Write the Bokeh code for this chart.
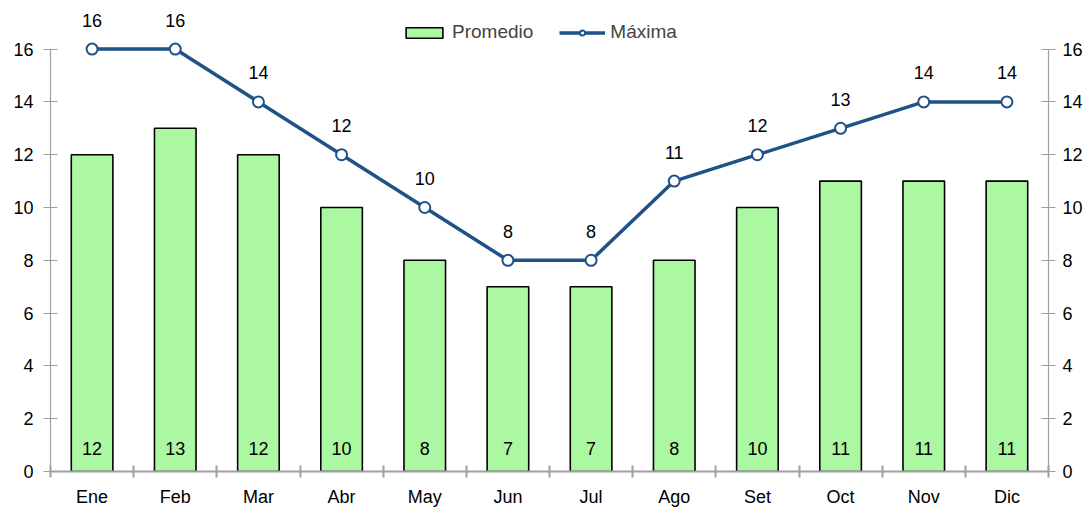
from bokeh.plotting import figure
from bokeh.models import (ColumnDataSource, LinearAxis, FixedTicker, Range1d,
                          Legend, LegendItem, LabelSet)
from bokeh.core.properties import value
from bokeh.embed import file_html
from bokeh.resources import INLINE

months = ["Ene", "Feb", "Mar", "Abr", "May", "Jun", "Jul", "Ago", "Set", "Oct", "Nov", "Dic"]
promedio = [12, 13, 12, 10, 8, 7, 7, 8, 10, 11, 11, 11]
maxima = [16, 16, 14, 12, 10, 8, 8, 11, 12, 13, 14, 14]
y_ticks = [0, 2, 4, 6, 8, 10, 12, 14, 16]

FONT = "Liberation Sans"
FS = "18px"
GREEN = "#abf7a2"
BLUE = "#1f5286"
AXIS = "#a0a0a0"

xs = list(range(1, len(months) + 1))
src = ColumnDataSource(dict(
    x=xs, prom=promedio, maxi=maxima,
    prom_txt=[str(v) for v in promedio], max_txt=[str(v) for v in maxima],
    zero=[0] * len(xs),
))

p = figure(width=1090, height=509, output_backend="svg", toolbar_location=None,
           x_range=Range1d(0.5, len(months) + 0.5), y_range=Range1d(0, 17.5),
           min_border_left=50, min_border_right=42, min_border_top=9, min_border_bottom=38)
p.outline_line_color = None
p.xgrid.grid_line_color = None
p.ygrid.grid_line_color = None
p.background_fill_color = "white"
p.border_fill_color = "white"

bars = p.vbar(x="x", top="prom", width=0.5, source=src, fill_color=GREEN,
              line_color="black", line_width=1.6)
line = p.line(x="x", y="maxi", source=src, line_color=BLUE, line_width=3.5)
pts = p.scatter(x="x", y="maxi", source=src, size=11, marker="circle",
                fill_color="white", line_color=BLUE, line_width=2)

# x axis
xa = p.xaxis[0]
xa.ticker = FixedTicker(ticks=xs, minor_ticks=[x - 0.5 for x in xs] + [len(xs) + 0.5])
xa.major_label_overrides = {x: m for x, m in zip(xs, months)}
xa.major_tick_in = 0
xa.major_tick_out = 0
xa.minor_tick_in = 6
xa.minor_tick_out = 6
xa.minor_tick_line_color = AXIS
xa.minor_tick_line_width = 2
xa.axis_line_color = AXIS
xa.axis_line_width = 2
xa.major_label_standoff = 9
xa.major_label_text_font = FONT
xa.major_label_text_font_size = FS
xa.major_label_text_color = "black"

def style_y(ax, standoff):
    ax.ticker = FixedTicker(ticks=y_ticks)
    ax.bounds = (0, 16)
    ax.major_tick_in = 7
    ax.major_tick_out = 7
    ax.minor_tick_line_color = None
    ax.major_tick_line_color = AXIS
    ax.major_tick_line_width = 1.2
    ax.axis_line_color = AXIS
    ax.axis_line_width = 1.2
    ax.major_label_standoff = standoff
    ax.major_label_text_font = FONT
    ax.major_label_text_font_size = FS
    ax.major_label_text_color = "black"

style_y(p.yaxis[0], 10)
ra = LinearAxis()
style_y(ra, 7)
p.add_layout(ra, "right")

lab_max = LabelSet(x="x", y="maxi", text="max_txt", source=src, y_offset=29,
                   text_align="center", text_baseline="middle",
                   text_font=value(FONT), text_font_size=value(FS), text_color="black")
lab_prom = LabelSet(x="x", y="zero", text="prom_txt", source=src, y_offset=23,
                    text_align="center", text_baseline="middle",
                    text_font=value(FONT), text_font_size=value(FS), text_color="black")
p.add_layout(lab_max)
p.add_layout(lab_prom)

legend = Legend(items=[LegendItem(label="Promedio", renderers=[bars]),
                       LegendItem(label="Máxima", renderers=[line, pts])],
                location=(351, 428), orientation="horizontal",
                border_line_color=None, background_fill_alpha=0,
                label_text_font=FONT, label_text_font_size="19px",
                glyph_width=46, glyph_height=13, spacing=26, padding=8, margin=0,
                label_standoff=5)
p.add_layout(legend)

open("out.html", "w").write(file_html(p, INLINE))
